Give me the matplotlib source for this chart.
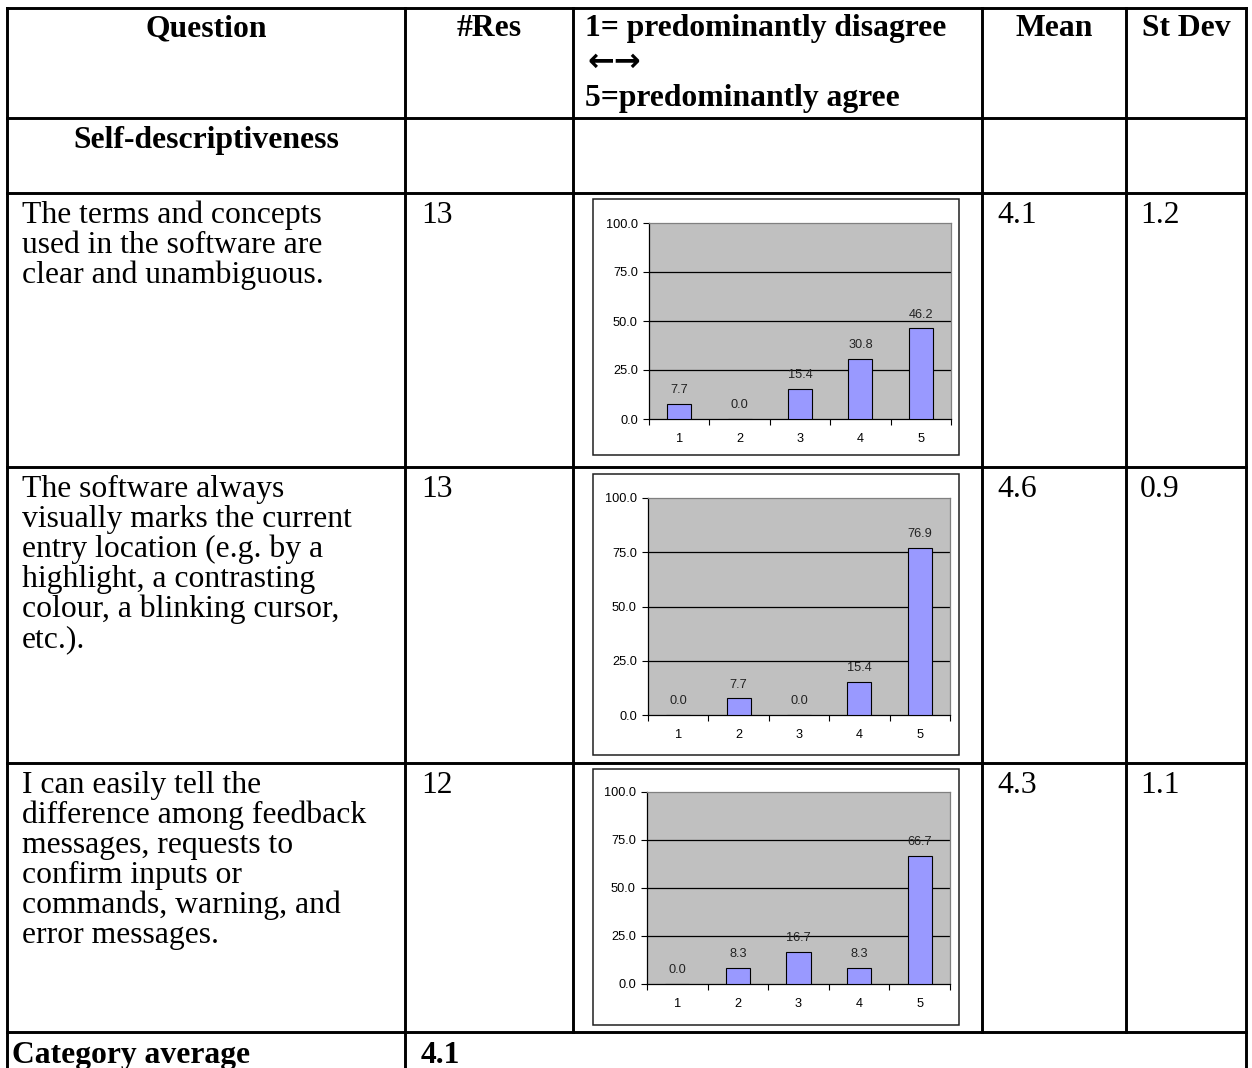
import numpy as np
import matplotlib
matplotlib.use("Agg")
import matplotlib.pyplot as plt
from matplotlib.patches import Rectangle

W, H = 1252, 1068
DPI = 100

# ── table content ─────────────────────────────────────────────────────────────
header_cols = ["Question", "#Res", "Mean", "St Dev"]
scale_lines = ["1= predominantly disagree", "\u2190\u2192", "5=predominantly agree"]
category    = "Self-descriptiveness"
questions = [
    "The terms and concepts\nused in the software are\nclear and unambiguous.",
    "The software always\nvisually marks the current\nentry location (e.g. by a\n"
    "highlight, a contrasting\ncolour, a blinking cursor,\netc.).",
    "I can easily tell the\ndifference among feedback\nmessages, requests to\n"
    "confirm inputs or\ncommands, warning, and\nerror messages.",
]
n_res   = [13, 13, 12]
means   = [4.1, 4.6, 4.3]
st_devs = [1.2, 0.9, 1.1]
cat_avg = 4.1

# answer distribution (% of respondents) for scale points 1..5
scale  = [1, 2, 3, 4, 5]
pct = [
    [7.7, 0.0, 15.4, 30.8, 46.2],
    [0.0, 7.7, 0.0, 15.4, 76.9],
    [0.0, 8.3, 16.7, 8.3, 66.7],
]
y_ticks = [0, 25, 50, 75, 100]

# ── layout (pixels) ───────────────────────────────────────────────────────────
col_x = [7, 405, 573, 982, 1126, 1246]
row_y = [8, 118, 193, 467, 763, 1032, 1075]
frames = [(593, 199, 959, 455), (593, 474, 959, 755), (593, 769, 959, 1025)]
plots  = [(649, 223, 951, 419), (648, 498, 950, 715), (647, 792, 950, 984)]

SERIF = ["Liberation Serif", "DejaVu Serif"]
SANS = "Liberation Sans"
FS = 22.8
CFS = 9.2
LINE_STEP = 30
BAR_COLOR = "#9999FF"
PLOT_BG = "#C0C0C0"

fig = plt.figure(figsize=(W / DPI, H / DPI), dpi=DPI)
ax = fig.add_axes([0, 0, 1, 1])
ax.set_xlim(0, W)
ax.set_ylim(H, 0)
ax.axis("off")

lw = 2.1
# horizontal rules
for y in row_y[:-1]:
    ax.plot([col_x[0], col_x[-1]], [y, y], color="black", lw=lw,
            solid_capstyle="projecting")
# vertical rules; last row only keeps the outer edges and first divider
for i, x in enumerate(col_x):
    y_end = row_y[-1] if i in (0, 1, len(col_x) - 1) else row_y[-2]
    ax.plot([x, x], [row_y[0], y_end], color="black", lw=lw,
            solid_capstyle="projecting")


def cell_text(x, y, s, bold=False, ha="left"):
    for k, line in enumerate(s.split("\n")):
        ax.text(x, y + k * LINE_STEP, line, fontsize=FS, family=SERIF,
                fontweight="bold" if bold else "normal",
                ha=ha, va="baseline", color="black")


# header row
ax.text((col_x[0] + col_x[1]) / 2, 36, header_cols[0], fontsize=FS,
        family=SERIF, fontweight="bold", ha="center", va="baseline")
ax.text((col_x[1] + col_x[2]) / 2, 36, header_cols[1], fontsize=FS,
        family=SERIF, fontweight="bold", ha="center", va="baseline")
ax.text(585, 36, scale_lines[0], fontsize=FS, family=SERIF,
        fontweight="bold", ha="left", va="baseline")
ax.text(587, 62, scale_lines[1], fontsize=23, family="DejaVu Sans",
        fontweight="bold", ha="left", va="center")
ax.text(585, 106, scale_lines[2], fontsize=FS, family=SERIF,
        fontweight="bold", ha="left", va="baseline")
ax.text((col_x[3] + col_x[4]) / 2, 36, header_cols[2], fontsize=FS,
        family=SERIF, fontweight="bold", ha="center", va="baseline")
ax.text((col_x[4] + col_x[5]) / 2, 36, header_cols[3], fontsize=FS,
        family=SERIF, fontweight="bold", ha="center", va="baseline")

# category row
ax.text((col_x[0] + col_x[1]) / 2, 148, category, fontsize=FS,
        family=SERIF, fontweight="bold", ha="center", va="baseline")

# question rows
for i in range(len(questions)):
    top = row_y[i + 2]
    base = top + 30
    cell_text(22, base, questions[i])
    cell_text(421, base, str(n_res[i]))
    cell_text(997, base, f"{means[i]:.1f}")
    cell_text(1140, base, f"{st_devs[i]:.1f}")

# category average row
cell_text(12, row_y[5] + 31, "Category average", bold=True)
cell_text(421, row_y[5] + 31, f"{cat_avg:.1f}", bold=True)

# ── embedded bar charts ───────────────────────────────────────────────────────
for (fx0, fy0, fx1, fy1) in frames:
    ax.add_patch(Rectangle((fx0, fy0), fx1 - fx0, fy1 - fy0, fill=False,
                           edgecolor="#202020", lw=1.1, zorder=3))

for vals, (px0, py0, px1, py1) in zip(pct, plots):
    cax = fig.add_axes([px0 / W, 1 - py1 / H, (px1 - px0) / W, (py1 - py0) / H])
    cax.set_facecolor(PLOT_BG)
    cax.bar(scale, vals, width=0.4, color=BAR_COLOR, edgecolor="black",
            linewidth=0.8, zorder=3)
    for xv, v in zip(scale, vals):
        cax.annotate(f"{v:.1f}", (xv, v), xytext=(0, 5.5),
                     textcoords="offset points", ha="center", va="bottom",
                     fontsize=CFS, family=SANS, color="#222222", zorder=4)
    cax.set_xlim(0.5, 5.5)
    cax.set_ylim(0, 100)
    for g in y_ticks[1:-1]:
        cax.axhline(g, color="black", lw=0.9, zorder=1)
    cax.set_yticks(y_ticks)
    cax.set_yticklabels([f"{t:.1f}" for t in y_ticks], family=SANS, fontsize=CFS)
    cax.set_xticks(scale)
    cax.set_xticklabels([str(s) for s in scale], family=SANS, fontsize=CFS)
    cax.set_xticks(np.arange(0.5, 6.0, 1.0), minor=True)
    cax.tick_params(axis="x", which="major", length=0, pad=10)
    cax.tick_params(axis="x", which="minor", length=4, width=0.8,
                    direction="out", color="black")
    cax.tick_params(axis="y", length=4, width=0.8, direction="out", pad=4)
    for side in ("left", "bottom"):
        cax.spines[side].set_color("black")
        cax.spines[side].set_linewidth(0.9)
    for side in ("top", "right"):
        cax.spines[side].set_color("#808080")
        cax.spines[side].set_linewidth(0.9)

fig.savefig("out.png", dpi=DPI)
